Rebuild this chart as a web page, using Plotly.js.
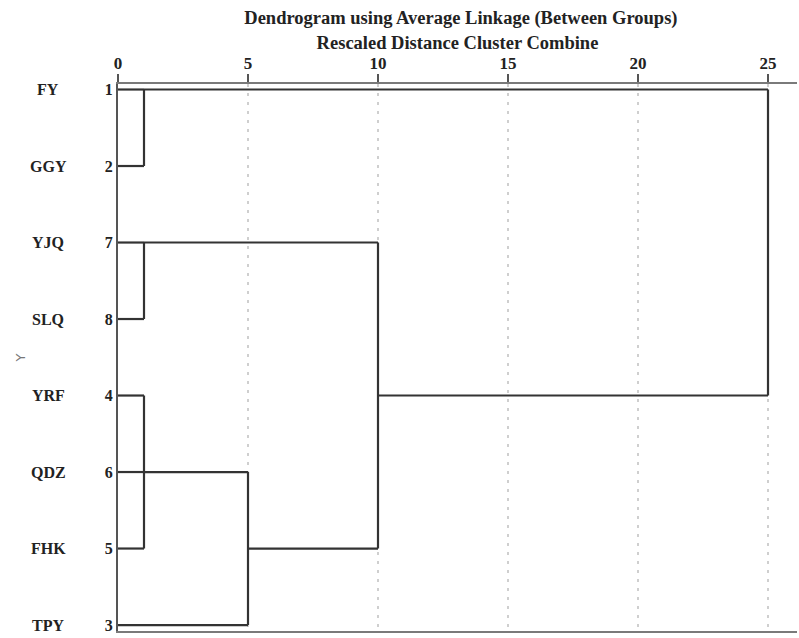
<!DOCTYPE html>
<html>
<head>
<meta charset="utf-8">
<script src="https://cdn.plot.ly/plotly-3.0.1.min.js"></script>
<style>html,body{margin:0;padding:0;background:#fff;}#chart{width:799px;height:638px;}</style>
</head>
<body>
<div id="chart"></div>
<script>
// ---- data ----
const caseNames = ['FY', 'GGY', 'YJQ', 'SLQ', 'YRF', 'QDZ', 'FHK', 'TPY'];
const caseNumbers = ['1', '2', '7', '8', '4', '6', '5', '3'];
const rowOrder = [1, 2, 3, 4, 5, 6, 7, 8];
const distanceTicks = [0, 5, 10, 15, 20, 25];
// merges (rescaled distance), members: r# = leaf row, m# = earlier merge
const mergeDistance = [1, 1, 1, 5, 10, 25];
const mergeMembers = [['r1', 'r2'], ['r3', 'r4'], ['r5', 'r6', 'r7'], ['m2', 'r8'], ['m1', 'm3'], ['m0', 'm4']];
const mergeOutRow = [1, 3, 6, 7, 5, 1];

// ---- build dendrogram segments ----
function node(id) {
  const k = parseInt(id.slice(1), 10);
  if (id[0] === 'r') return {x: 0, y: rowOrder[k - 1]};
  return {x: mergeDistance[k], y: mergeOutRow[k]};
}
const lx = [], ly = [];
mergeMembers.forEach((members, i) => {
  const d = mergeDistance[i];
  const ys = [];
  members.forEach(m => {
    const n = node(m);
    lx.push(n.x, d, null); ly.push(n.y, n.y, null);
    ys.push(n.y);
  });
  lx.push(d, d, null); ly.push(Math.min(...ys), Math.max(...ys), null);
});

const serif = 'Liberation Serif, Times New Roman, serif';
const trace = {
  type: 'scatter', mode: 'lines', x: lx, y: ly,
  line: {color: '#333', width: 2.2}, hoverinfo: 'skip', showlegend: false
};

const annotations = caseNames.map((nm, i) => ({
  xref: 'paper', yref: 'y', x: -0.103, y: rowOrder[i], text: nm,
  showarrow: false, xanchor: 'center', yanchor: 'middle',
  font: {family: serif, size: 16, color: '#222', weight: 'bold'}
}));

const layout = {
  width: 799, height: 638,
  margin: {l: 118, r: 2, t: 84, b: 7},
  paper_bgcolor: '#fff', plot_bgcolor: '#fff',
  title: {
    text: 'Dendrogram using Average Linkage (Between Groups)',
    font: {family: serif, size: 18.5, color: '#222', weight: 'bold'},
    xref: 'paper', x: 0.505, xanchor: 'center',
    yref: 'container', y: 1 - 17.5 / 638, yanchor: 'middle'
  },
  xaxis: {
    side: 'top', range: [0, 26.115], autorange: false,
    tickvals: distanceTicks, ticks: 'outside', ticklen: 8, tickwidth: 2, tickcolor: '#555',
    ticklabelstandoff: -2,
    tickfont: {family: serif, size: 17, color: '#222', weight: 'bold'},
    showline: true, mirror: true, linecolor: '#7a7a7a', linewidth: 2,
    showgrid: true, gridcolor: '#cfcfcf', gridwidth: 1.5, griddash: '3px,6px',
    zeroline: false, fixedrange: true,
    title: {text: 'Rescaled Distance Cluster Combine', standoff: 0,
      font: {family: serif, size: 18.5, color: '#222', weight: 'bold'}}
  },
  yaxis: {
    range: [8.078, 0.928], autorange: false,
    tickvals: rowOrder, ticktext: caseNumbers, ticks: '',
    tickfont: {family: serif, size: 16, color: '#222', weight: 'bold'},
    showline: true, linecolor: '#555', linewidth: 2,
    showgrid: false, zeroline: false, fixedrange: true,
    title: {text: 'Y', standoff: 76, font: {family: 'DejaVu Sans, sans-serif', size: 13, color: '#777'}}
  },
  annotations: annotations
};

Plotly.newPlot('chart', [trace], layout, {displayModeBar: false, staticPlot: true});
</script>
</body>
</html>
